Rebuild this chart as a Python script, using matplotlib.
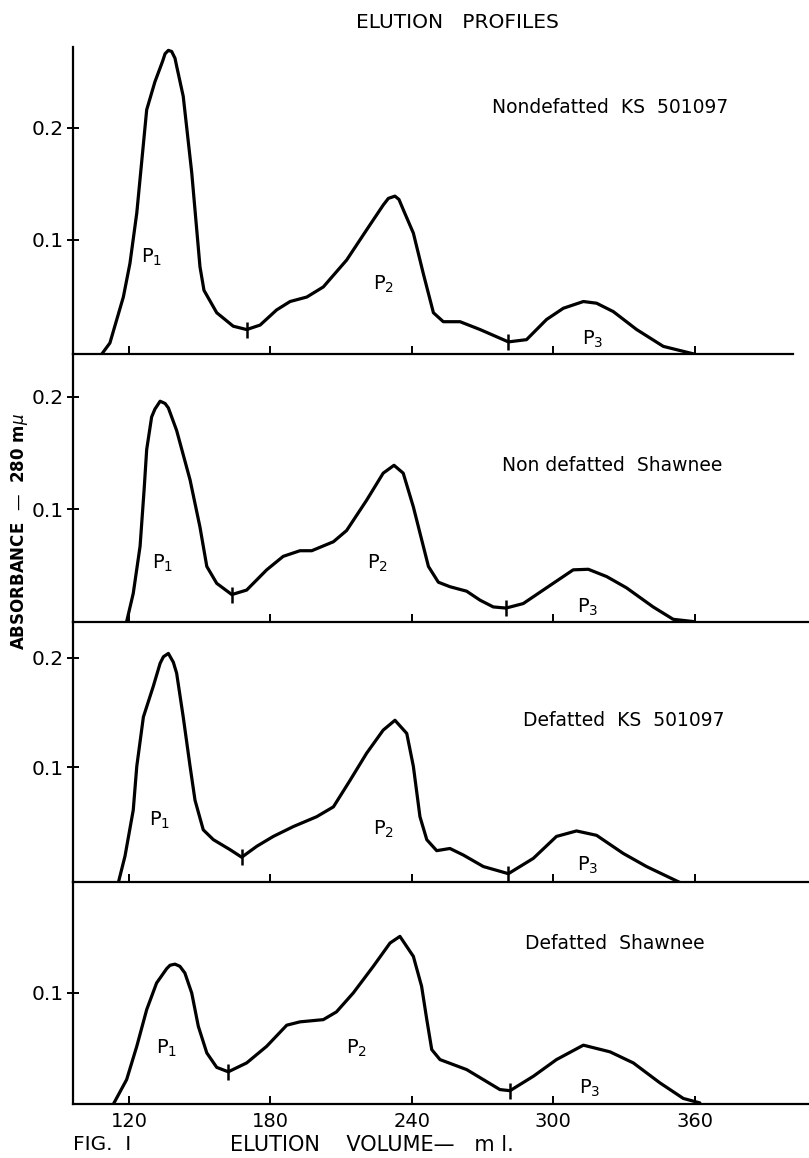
import matplotlib
matplotlib.use("Agg")
import matplotlib.pyplot as plt

# ---- data (elution volume in ml, absorbance at 280 mu) ----
vol_ks_nd = [108.4, 111.9, 117.6, 120.4, 123.3, 127.5, 131.0, 134.2, 135.3, 136.7, 138.1, 139.5,
             140.2, 143.0, 146.6, 150.1, 151.8, 157.2, 164.2, 169.9, 175.6, 182.6, 188.3, 195.4,
             202.4, 212.3, 220.8, 227.8, 230.0, 232.8, 234.5, 236.3, 240.6, 244.8, 249.1, 253.3,
             260.4, 268.9, 280.9, 288.6, 297.1, 304.2, 312.7, 318.3, 325.4, 335.3, 346.6, 360.0]
abs_ks_nd = [-0.002, 0.008, 0.049, 0.079, 0.124, 0.216, 0.241, 0.259, 0.266, 0.269, 0.268, 0.262,
             0.255, 0.228, 0.160, 0.076, 0.055, 0.035, 0.023, 0.020, 0.024, 0.0375, 0.045, 0.049,
             0.058, 0.082, 0.109, 0.131, 0.137, 0.139, 0.136, 0.127, 0.106, 0.070, 0.035, 0.027,
             0.027, 0.020, 0.009, 0.011, 0.029, 0.039, 0.045, 0.0435, 0.036, 0.020, 0.005, -0.002]

vol_sh_nd = [119.0, 121.8, 124.7, 126.4, 127.5, 129.6, 131.0, 133.2, 135.3, 136.7, 140.2, 145.9,
             150.1, 153.0, 157.2, 163.6, 169.9, 178.4, 185.4, 192.5, 197.5, 206.7, 212.3, 220.8,
             227.8, 232.4, 236.3, 240.6, 244.1, 247.0, 251.2, 256.1, 263.2, 268.9, 274.5, 279.9,
             287.2, 299.9, 308.4, 314.8, 322.6, 331.0, 342.3, 350.8, 359.3]
abs_sh_nd = [0.0, 0.025, 0.067, 0.117, 0.153, 0.182, 0.189, 0.196, 0.194, 0.190, 0.170, 0.126,
             0.084, 0.049, 0.034, 0.024, 0.028, 0.046, 0.058, 0.063, 0.063, 0.071, 0.081, 0.108,
             0.132, 0.139, 0.132, 0.102, 0.073, 0.049, 0.035, 0.031, 0.027, 0.019, 0.013, 0.012,
             0.016, 0.034, 0.046, 0.0465, 0.040, 0.030, 0.013, 0.002, 0.0]

vol_ks_d = [115.5, 118.3, 121.8, 123.3, 126.1, 130.3, 133.2, 134.6, 136.7, 138.8, 140.2, 143.0,
            145.9, 148.0, 151.5, 155.8, 162.8, 167.8, 174.2, 181.2, 189.7, 199.6, 206.7, 213.7,
            220.8, 227.8, 232.8, 237.8, 240.6, 243.4, 246.3, 250.5, 256.1, 261.8, 270.3, 280.9,
            291.5, 301.3, 309.8, 318.3, 329.6, 339.5, 353.6]
abs_ks_d = [-0.005, 0.019, 0.061, 0.101, 0.146, 0.174, 0.195, 0.201, 0.204, 0.196, 0.186, 0.146,
            0.101, 0.070, 0.043, 0.034, 0.025, 0.018, 0.028, 0.037, 0.046, 0.055, 0.064, 0.088,
            0.113, 0.134, 0.143, 0.131, 0.101, 0.055, 0.034, 0.024, 0.026, 0.020, 0.0095, 0.003,
            0.017, 0.037, 0.042, 0.038, 0.0215, 0.0095, -0.005]

vol_sh_d = [113.4, 119.0, 123.3, 127.5, 131.7, 136.0, 137.4, 139.5, 141.6, 143.7, 146.6, 149.4,
            153.0, 157.2, 162.1, 169.9, 178.4, 186.9, 192.5, 202.4, 208.0, 215.1, 223.6, 230.7,
            234.9, 240.6, 244.1, 246.3, 248.4, 251.9, 263.2, 277.3, 281.6, 291.5, 301.3, 312.7,
            324.0, 333.9, 345.2, 355.1, 362.1]
abs_sh_d = [0.0, 0.022, 0.052, 0.085, 0.109, 0.122, 0.125, 0.126, 0.124, 0.118, 0.100, 0.070,
            0.046, 0.033, 0.029, 0.037, 0.052, 0.071, 0.074, 0.076, 0.083, 0.100, 0.124, 0.145,
            0.151, 0.133, 0.106, 0.076, 0.049, 0.040, 0.031, 0.013, 0.012, 0.025, 0.040, 0.053,
            0.047, 0.037, 0.019, 0.005, 0.001]

# valley cut points marked on each curve
cut_vol = [[169.9, 280.9], [163.6, 279.9], [167.8, 280.9], [162.1, 281.6]]
cut_abs = [[0.020, 0.009], [0.024, 0.012], [0.018, 0.003], [0.029, 0.012]]

names = ["Nondefatted  KS  501097", "Non defatted  Shawnee",
         "Defatted  KS  501097", "Defatted  Shawnee"]
name_pos = [(273.9, 0.218), (278.2, 0.139), (287.1, 0.143), (287.9, 0.145)]

# peak label positions (P1, P2, P3)
peak_pos = [[(129.8, 0.084), (227.8, 0.060), (316.8, 0.011)],
            [(134.4, 0.052), (225.6, 0.052), (314.7, 0.013)],
            [(133.1, 0.052), (227.8, 0.043), (314.7, 0.011)],
            [(136.1, 0.050), (216.7, 0.050), (315.5, 0.014)]]

yticks = [[0.1, 0.2], [0.1, 0.2], [0.1, 0.2], [0.1]]
xticks = [120, 180, 240, 300, 360]

vols = [vol_ks_nd, vol_sh_nd, vol_ks_d, vol_sh_d]
absb = [abs_ks_nd, abs_sh_nd, abs_ks_d, abs_sh_d]

# ---- layout (pixel rows of each panel in the 809x1158 page) ----
W, H = 809, 1158
panel_px = [(47, 354), (354, 622), (622, 882), (882, 1104)]
ylims = [(-0.0018, 0.272), (-0.0004, 0.238), (-0.0046, 0.2327), (0.0, 0.2)]
right_px = [793, 809, 809, 809]
xlims = [(96.25, 401.6), (96.25, 408.4), (96.25, 408.4), (96.25, 408.4)]

plt.rcParams['font.family'] = 'DejaVu Sans'
plt.rcParams['mathtext.fontset'] = 'dejavusans'

fig = plt.figure(figsize=(W / 100, H / 100), dpi=100)

for i in range(4):
    top, bot = panel_px[i]
    ax = fig.add_axes([73 / W, 1 - bot / H, (right_px[i] - 73) / W, (bot - top) / H])
    ax.plot(vols[i], absb[i], color='black', lw=2.3, solid_joinstyle='round',
            solid_capstyle='round')
    ax.plot(cut_vol[i], cut_abs[i], ls='none', marker='|', ms=12, mew=1.8, color='black')
    ax.set_xlim(*xlims[i])
    ax.set_ylim(*ylims[i])
    for s in ['top', 'right']:
        ax.spines[s].set_visible(False)
    ax.spines['left'].set_linewidth(1.6)
    ax.spines['bottom'].set_linewidth(1.6)
    ax.set_xticks(xticks)
    ax.set_yticks(yticks[i])
    ax.set_yticklabels([f"{t:.1f}" for t in yticks[i]], fontsize=14.5)
    ax.tick_params(axis='y', direction='inout', length=9, width=1.4, pad=2)
    ax.tick_params(axis='x', direction='in', length=6, width=1.4, pad=6, labelsize=14)
    if i < 3:
        ax.tick_params(axis='x', labelbottom=False)
    ax.text(name_pos[i][0], name_pos[i][1], names[i], fontsize=13.5, ha='left', va='center')
    for k, (px, py) in enumerate(peak_pos[i]):
        ax.text(px, py, "P$_{%d}$" % (k + 1), fontsize=14, ha='center', va='center')
    ax.patch.set_alpha(0)

fig.text(457 / W, 1 - 22 / H, "ELUTION   PROFILES", fontsize=14.5, ha='center', va='center')
fig.text(20 / W, 1 - 532 / H, "ABSORBANCE  —  280 m$\\mu$", fontsize=12, rotation=90,
         ha='center', va='center', weight='bold')
fig.text(73 / W, 1 - 1145 / H, "FIG.  I", fontsize=14.5, ha='left', va='center')
fig.text(230 / W, 1 - 1145 / H, "ELUTION    VOLUME—   m l.", fontsize=15, ha='left',
         va='center')

fig.savefig("out.png", dpi=100)
